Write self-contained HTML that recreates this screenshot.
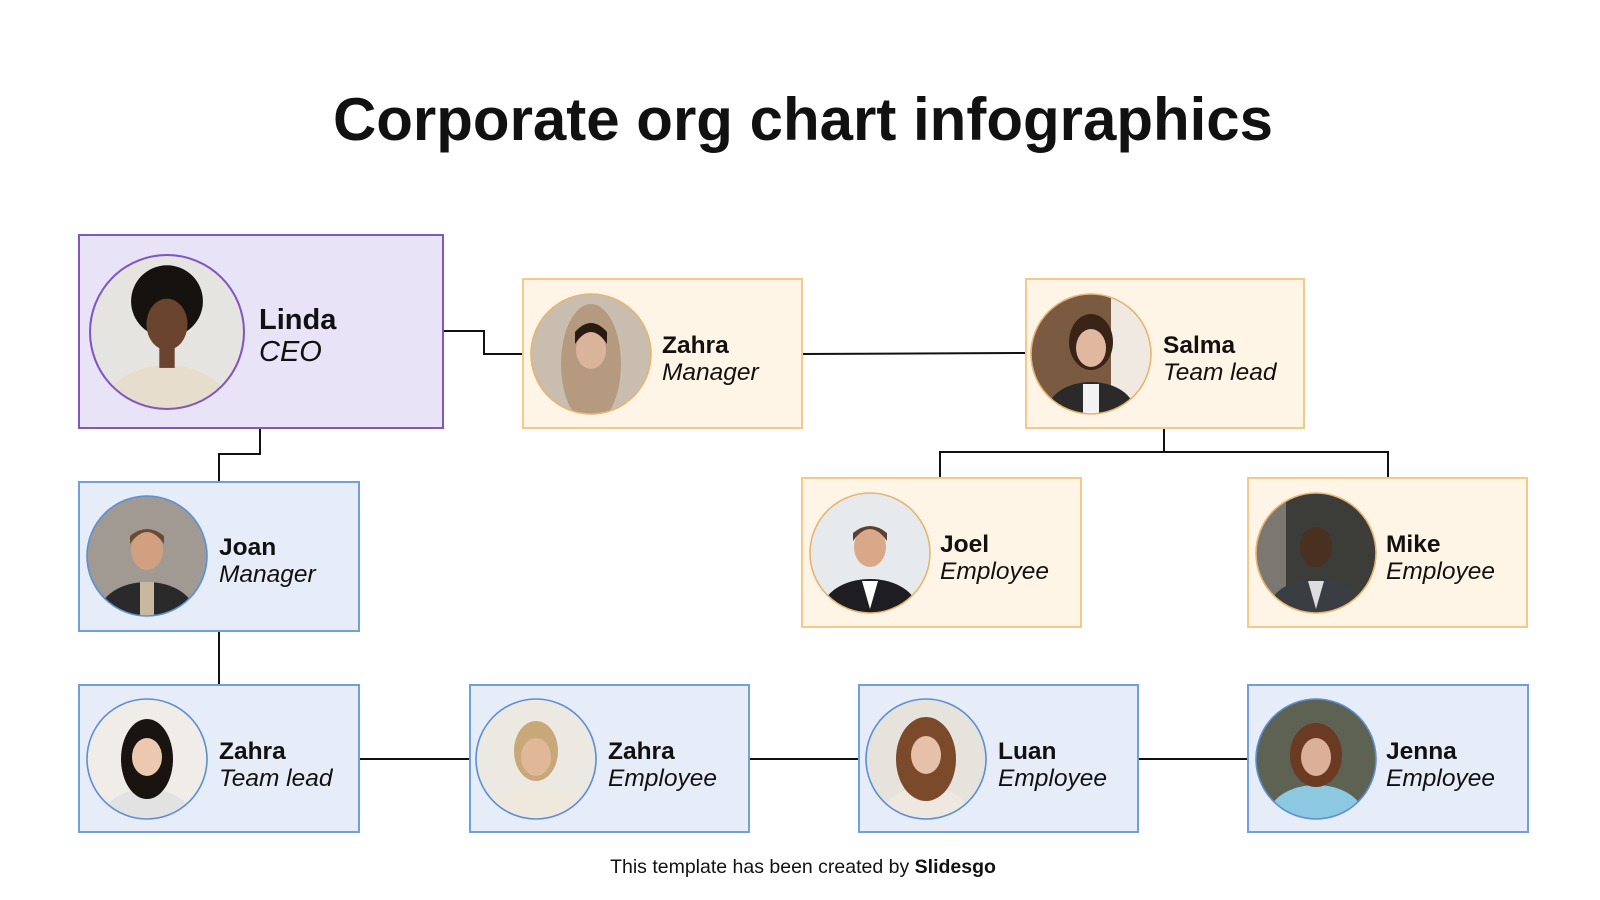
<!DOCTYPE html>
<html><head><meta charset="utf-8"><style>
html,body{margin:0;padding:0;background:#fff;}
svg{display:block;}
text{font-family:"Liberation Sans",sans-serif;fill:#111;}
.n{font-weight:bold;font-size:24.5px;}
.r{font-style:italic;font-size:24.5px;}
</style></head><body>
<svg width="1600" height="900" viewBox="0 0 1600 900" xmlns="http://www.w3.org/2000/svg">
<defs><clipPath id="c"><circle cx="0" cy="0" r="60"/></clipPath></defs>
<text x="803" y="140" text-anchor="middle" style="font-weight:bold;font-size:60px;">Corporate org chart infographics</text>

<g stroke="#111" stroke-width="2" fill="none">
<polyline points="443,331 484,331 484,354 523,354"/>
<line x1="802" y1="354" x2="1026" y2="353"/>
<polyline points="1164,428 1164,452"/>
<polyline points="940,478 940,452 1388,452 1388,478"/>
<polyline points="260,428 260,454 219,454 219,482"/>
<line x1="219" y1="631" x2="219" y2="685"/>
<line x1="359" y1="759" x2="470" y2="759"/>
<line x1="749" y1="759" x2="859" y2="759"/>
<line x1="1138" y1="759" x2="1248" y2="759"/>
</g>

<g stroke-width="2">
<rect x="79" y="235" width="364" height="193" fill="#e9e3f8" stroke="#7e57c2"/>
<rect x="523" y="279" width="279" height="149" fill="#fff5e6" stroke="#f5c98a"/>
<rect x="1026" y="279" width="278" height="149" fill="#fff5e6" stroke="#f5c98a"/>
<rect x="802" y="478" width="279" height="149" fill="#fff5e6" stroke="#f5c98a"/>
<rect x="1248" y="478" width="279" height="149" fill="#fff5e6" stroke="#f5c98a"/>
<rect x="79" y="482" width="280" height="149" fill="#e6edf8" stroke="#6f9fdc"/>
<rect x="79" y="685" width="280" height="147" fill="#e6edf8" stroke="#6f9fdc"/>
<rect x="470" y="685" width="279" height="147" fill="#e6edf8" stroke="#6f9fdc"/>
<rect x="859" y="685" width="279" height="147" fill="#e6edf8" stroke="#6f9fdc"/>
<rect x="1248" y="685" width="280" height="147" fill="#e6edf8" stroke="#6f9fdc"/>
</g>

<g transform="translate(167,332) scale(1.283)"><g clip-path="url(#c)">
<rect x="-60" y="-60" width="120" height="120" fill="#e6e4e0"/>
<ellipse cx="0" cy="58" rx="48" ry="32" fill="#e6ddcc"/>
<circle cx="0" cy="-24" r="28" fill="#161210"/>
<ellipse cx="0" cy="-6" rx="16" ry="20" fill="#6b4430"/>
<rect x="-6" y="10" width="12" height="18" fill="#6b4430"/>
</g><circle r="60" fill="none" stroke="#7e57c2" stroke-width="1.6"/></g>
<text x="259" y="329" style="font-weight:bold;font-size:29px;">Linda</text>
<text x="259" y="361" style="font-style:italic;font-size:29px;">CEO</text>

<g transform="translate(591,354)"><g clip-path="url(#c)">
<rect x="-60" y="-60" width="120" height="120" fill="#c9bdb0"/>
<ellipse cx="0" cy="10" rx="30" ry="60" fill="#b59a80"/>
<ellipse cx="0" cy="-4" rx="15" ry="19" fill="#d9b39a"/>
<path d="M-16,-10 Q0,-34 16,-10 L16,-22 Q0,-40 -16,-22Z" fill="#2a1a12"/>
</g><circle r="60" fill="none" stroke="#e8b470" stroke-width="1.6"/></g>
<text x="662" y="353" class="n">Zahra</text><text x="662" y="380" class="r">Manager</text>

<g transform="translate(1091,354)"><g clip-path="url(#c)">
<rect x="-60" y="-60" width="120" height="120" fill="#7a5a40"/>
<rect x="20" y="-60" width="40" height="120" fill="#efe9e2"/>
<ellipse cx="0" cy="58" rx="44" ry="30" fill="#2a2a2a"/>
<ellipse cx="0" cy="-12" rx="22" ry="28" fill="#3a2418"/>
<ellipse cx="0" cy="-6" rx="15" ry="19" fill="#e0b8a0"/>
<rect x="-8" y="30" width="16" height="30" fill="#f2f2f2"/>
</g><circle r="60" fill="none" stroke="#e8b470" stroke-width="1.6"/></g>
<text x="1163" y="353" class="n">Salma</text><text x="1163" y="380" class="r">Team lead</text>

<g transform="translate(870,553)"><g clip-path="url(#c)">
<rect x="-60" y="-60" width="120" height="120" fill="#e6eaed"/>
<ellipse cx="0" cy="58" rx="48" ry="32" fill="#1e1e22"/>
<path d="M-8,28 L8,28 L0,56Z" fill="#fff"/>
<ellipse cx="0" cy="-6" rx="16" ry="20" fill="#d8a888"/>
<path d="M-17,-12 Q0,-36 17,-12 L17,-20 Q0,-34 -17,-20Z" fill="#5a4030"/>
</g><circle r="60" fill="none" stroke="#e8b470" stroke-width="1.6"/></g>
<text x="940" y="552" class="n">Joel</text><text x="940" y="579" class="r">Employee</text>

<g transform="translate(1316,553)"><g clip-path="url(#c)">
<rect x="-60" y="-60" width="120" height="120" fill="#3c3c38"/>
<rect x="-60" y="-60" width="30" height="120" fill="#7a7870"/>
<ellipse cx="0" cy="58" rx="48" ry="32" fill="#3a3d42"/>
<path d="M-8,28 L8,28 L0,56Z" fill="#ddd"/>
<ellipse cx="0" cy="-6" rx="16" ry="20" fill="#4a3020"/>
</g><circle r="60" fill="none" stroke="#e8b470" stroke-width="1.6"/></g>
<text x="1386" y="552" class="n">Mike</text><text x="1386" y="579" class="r">Employee</text>

<g transform="translate(147,556)"><g clip-path="url(#c)">
<rect x="-60" y="-60" width="120" height="120" fill="#a09a92"/>
<ellipse cx="0" cy="58" rx="48" ry="32" fill="#2a2a2a"/>
<rect x="-7" y="26" width="14" height="34" fill="#c8b8a0"/>
<ellipse cx="0" cy="-6" rx="16" ry="20" fill="#d0a080"/>
<path d="M-17,-12 Q0,-36 17,-12 L17,-20 Q0,-34 -17,-20Z" fill="#6a4a30"/>
</g><circle r="60" fill="none" stroke="#5b8fd6" stroke-width="1.6"/></g>
<text x="219" y="555" class="n">Joan</text><text x="219" y="582" class="r">Manager</text>

<g transform="translate(147,759)"><g clip-path="url(#c)">
<rect x="-60" y="-60" width="120" height="120" fill="#f0ede8"/>
<ellipse cx="0" cy="58" rx="44" ry="28" fill="#e2e2e2"/>
<ellipse cx="0" cy="0" rx="26" ry="40" fill="#1a1410"/>
<ellipse cx="0" cy="-2" rx="15" ry="19" fill="#ecc8b0"/>
</g><circle r="60" fill="none" stroke="#5b8fd6" stroke-width="1.6"/></g>
<text x="219" y="759" class="n">Zahra</text><text x="219" y="786" class="r">Team lead</text>

<g transform="translate(536,759)"><g clip-path="url(#c)">
<rect x="-60" y="-60" width="120" height="120" fill="#ece8e2"/>
<ellipse cx="0" cy="58" rx="46" ry="30" fill="#efe8dc"/>
<ellipse cx="0" cy="-8" rx="22" ry="30" fill="#c8a878"/>
<ellipse cx="0" cy="-2" rx="15" ry="19" fill="#e0b898"/>
</g><circle r="60" fill="none" stroke="#5b8fd6" stroke-width="1.6"/></g>
<text x="608" y="759" class="n">Zahra</text><text x="608" y="786" class="r">Employee</text>

<g transform="translate(926,759)"><g clip-path="url(#c)">
<rect x="-60" y="-60" width="120" height="120" fill="#e6e2dc"/>
<ellipse cx="0" cy="58" rx="44" ry="30" fill="#efe8e0"/>
<ellipse cx="0" cy="0" rx="30" ry="42" fill="#7a4a2a"/>
<ellipse cx="0" cy="-4" rx="15" ry="19" fill="#e6c0a8"/>
</g><circle r="60" fill="none" stroke="#5b8fd6" stroke-width="1.6"/></g>
<text x="998" y="759" class="n">Luan</text><text x="998" y="786" class="r">Employee</text>

<g transform="translate(1316,759)"><g clip-path="url(#c)">
<rect x="-60" y="-60" width="120" height="120" fill="#5e6252"/>
<ellipse cx="0" cy="58" rx="48" ry="32" fill="#8cc8e0"/>
<ellipse cx="0" cy="-4" rx="26" ry="32" fill="#6a3a22"/>
<ellipse cx="0" cy="-2" rx="15" ry="19" fill="#dcb098"/>
</g><circle r="60" fill="none" stroke="#5b8fd6" stroke-width="1.6"/></g>
<text x="1386" y="759" class="n">Jenna</text><text x="1386" y="786" class="r">Employee</text>

<text x="803" y="873" text-anchor="middle" style="font-size:19.5px;">This template has been created by <tspan style="font-weight:bold;">Slidesgo</tspan></text>
</svg>
</body></html>
